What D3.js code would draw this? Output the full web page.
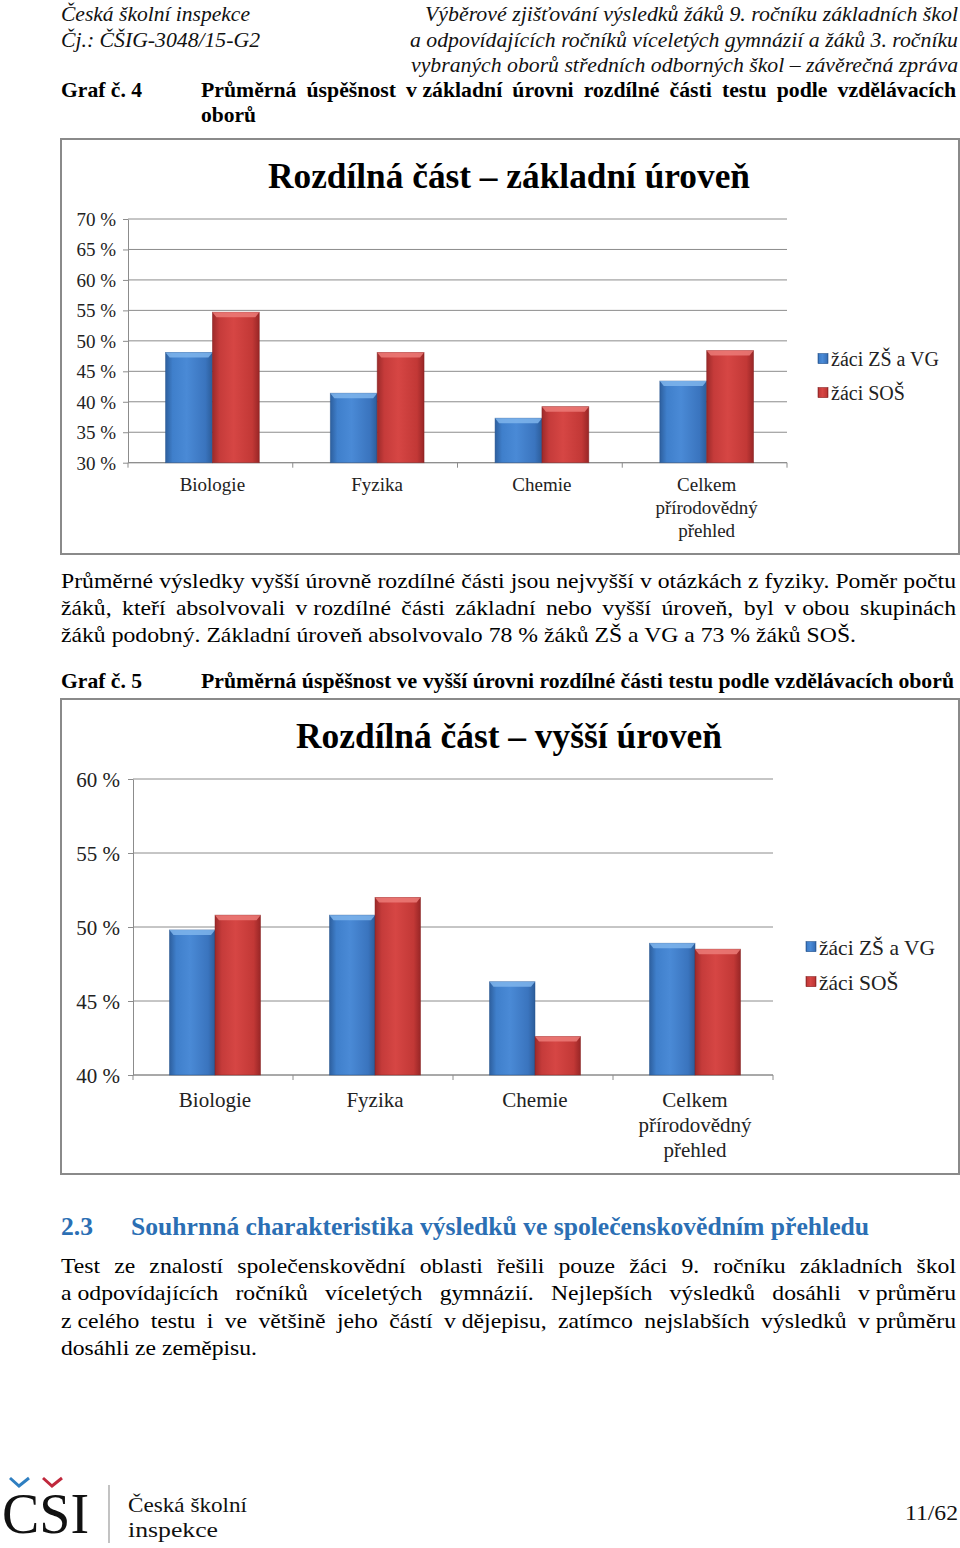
<!DOCTYPE html>
<html><head><meta charset="utf-8">
<script src="https://cdn.jsdelivr.net/npm/d3@7"></script>
<style>html,body{margin:0;padding:0;background:#fff}svg{display:block}</style>
</head><body><svg id="page" width="960" height="1548"></svg>
<script>
// ---------- data ----------
const categories = ["Biologie", "Fyzika", "Chemie", "Celkem přírodovědný přehled"];
const seriesNames = ["žáci ZŠ a VG", "žáci SOŠ"];
const basicZSVG = [48.1, 41.4, 37.3, 43.4];
const basicSOS = [54.7, 48.1, 39.2, 48.4];
const higherZSVG = [49.8, 50.8, 46.3, 48.9];
const higherSOS = [50.8, 52.0, 42.6, 48.5];
const basicTicks = [30, 35, 40, 45, 50, 55, 60, 65, 70];
const higherTicks = [40, 45, 50, 55, 60];
const basicTitle = "Rozdílná část – základní úroveň";
const higherTitle = "Rozdílná část – vyšší úroveň";

// ---------- helpers ----------
const SERIF = "'Liberation Serif','Times New Roman',serif";
const svg = d3.select("#page");

function txt(g, s, o) {
  const t = g.append("text").attr("x", o.x).attr("y", o.y).text(s)
    .attr("font-family", o.family || SERIF).attr("font-size", o.size)
    .attr("font-weight", o.weight || "normal").attr("font-style", o.style || "normal")
    .attr("fill", o.fill || "#000").attr("text-anchor", o.anchor || "start");
  if (o.width) t.attr("textLength", o.width).attr("lengthAdjust", "spacingAndGlyphs");
  return t;
}
function measure(s, o) {
  const t = txt(svg, s, Object.assign({}, o, {width: null, x: 0, y: -100}));
  const w = t.node().getComputedTextLength();
  t.remove();
  return w;
}
function justify(g, s, o) {
  const sx = o.sx || 1;
  const words = s.split(" ");
  const nodes = words.map(w => txt(g, w, Object.assign({}, o, {width: null, x: 0})));
  const ws = nodes.map(n => n.node().getComputedTextLength() * sx);
  let gap = (o.width - d3.sum(ws)) / (words.length - 1);
  if (gap < o.size * 0.12) { nodes.forEach(n => n.remove()); return txt(g, s, o); }
  let x = o.x;
  nodes.forEach((n, i) => {
    n.attr("x", x);
    if (sx !== 1) n.attr("textLength", ws[i]).attr("lengthAdjust", "spacingAndGlyphs");
    x += ws[i] + gap;
  });
}

// ---------- gradients ----------
const defs = svg.append("defs");
const palettes = [
  {id: "gBlue", stops: ["#2d5f9e", "#3f7fcb", "#4a8ad6", "#3a74be", "#2c5d9a"], cap: "#7fb5ec", edge: "#24528c"},
  {id: "gRed", stops: ["#9c2a2a", "#c53b3a", "#d64644", "#c23836", "#982626"], cap: "#ec7b78", edge: "#862121"}
];
palettes.forEach(p => {
  const lg = defs.append("linearGradient").attr("id", p.id).attr("x1", 0).attr("x2", 1).attr("y1", 0).attr("y2", 0);
  p.stops.forEach((c, i) => lg.append("stop").attr("offset", [0, 0.15, 0.45, 0.85, 1][i]).attr("stop-color", c));
});

// ---------- page text ----------
const page = svg.append("g");
const FS = 21.5;
const p1last = "žáků podobný. Základní úroveň absolvovalo 78 % žáků ZŠ a VG a 73 % žáků SOŠ.";
const cap5 = "Průměrná úspěšnost ve vyšší úrovni rozdílné části testu podle vzdělávacích oborů";
const sxBody = 795 / measure(p1last, {size: FS});
const sxBold = 753 / measure(cap5, {size: FS, weight: "bold"});

// header
txt(page, "Česká školní inspekce", {x: 61, y: 21, size: FS, style: "italic", width: 189, fill: "#111"});
txt(page, "Čj.: ČŠIG-3048/15-G2", {x: 61, y: 47, size: FS, style: "italic", width: 199, fill: "#111"});
txt(page, "Výběrové zjišťování výsledků žáků 9. ročníku základních škol", {x: 425, y: 21, size: FS, style: "italic", width: 533, fill: "#111"});
txt(page, "a odpovídajících ročníků víceletých gymnázií a žáků 3. ročníku", {x: 410, y: 47, size: FS, style: "italic", width: 548, fill: "#111"});
txt(page, "vybraných oborů středních odborných škol – závěrečná zpráva", {x: 411, y: 72, size: FS, style: "italic", width: 547, fill: "#111"});

// caption 4
txt(page, "Graf č. 4", {x: 61, y: 97, size: FS, weight: "bold", width: 81});
justify(page, "Průměrná úspěšnost v\u00A0základní úrovni rozdílné části testu podle vzdělávacích", {x: 201, y: 97, size: FS, weight: "bold", width: 755, sx: sxBold});
txt(page, "oborů", {x: 201, y: 122, size: FS, weight: "bold", width: 55});

// paragraph 1
justify(page, "Průměrné výsledky vyšší úrovně rozdílné části jsou nejvyšší v\u00A0otázkách z\u00A0fyziky. Poměr počtu", {x: 61, y: 588, size: FS, width: 895, sx: sxBody});
justify(page, "žáků, kteří absolvovali v\u00A0rozdílné části základní nebo vyšší úroveň, byl v\u00A0obou skupinách", {x: 61, y: 615, size: FS, width: 895, sx: sxBody});
txt(page, p1last, {x: 61, y: 642, size: FS, width: 795});

// caption 5
txt(page, "Graf č. 5", {x: 61, y: 688, size: FS, weight: "bold", width: 81});
txt(page, cap5, {x: 201, y: 688, size: FS, weight: "bold", width: 753});

// heading 2.3
txt(page, "2.3", {x: 61, y: 1235, size: 24.5, weight: "bold", fill: "#2b6fb4", width: 32});
txt(page, "Souhrnná charakteristika výsledků ve společenskovědním přehledu", {x: 131, y: 1235, size: 24.5, weight: "bold", fill: "#2b6fb4", width: 738});

// paragraph 2
justify(page, "Test ze znalostí společenskovědní oblasti řešili pouze žáci 9. ročníku základních škol", {x: 61, y: 1273, size: FS, width: 895, sx: sxBody});
justify(page, "a\u00A0odpovídajících ročníků víceletých gymnázií. Nejlepších výsledků dosáhli v\u00A0průměru", {x: 61, y: 1300, size: FS, width: 895, sx: sxBody});
justify(page, "z\u00A0celého testu i ve většině jeho částí v\u00A0dějepisu, zatímco nejslabších výsledků v\u00A0průměru", {x: 61, y: 1328, size: FS, width: 895, sx: sxBody});
txt(page, "dosáhli ze zeměpisu.", {x: 61, y: 1355, size: FS, width: 196});

// footer
txt(page, "CSI", {x: 2, y: 1533, size: 58, width: 87, fill: "#111"});
page.append("path").attr("d", "M10,1478 L19,1486 L29,1478").attr("fill", "none").attr("stroke", "#2f7fc1").attr("stroke-width", 3);
page.append("path").attr("d", "M43,1478 L52,1486 L62,1478").attr("fill", "none").attr("stroke", "#c0283c").attr("stroke-width", 3);
page.append("line").attr("x1", 109).attr("x2", 109).attr("y1", 1485).attr("y2", 1543).attr("stroke", "#9a9a9a").attr("stroke-width", 1.2);
txt(page, "Česká školní", {x: 128, y: 1512, size: 22, width: 119, fill: "#111"});
txt(page, "inspekce", {x: 128, y: 1537, size: 22, width: 90, fill: "#111"});
txt(page, "11/62", {x: 905, y: 1520, size: 22, width: 53, fill: "#111"});

// ---------- charts ----------
function drawChart(o) {
  const g = svg.append("g");
  g.append("rect").attr("x", o.box[0]).attr("y", o.box[1]).attr("width", o.box[2]).attr("height", o.box[3])
    .attr("fill", "#fff").attr("stroke", "#8a8a8a").attr("stroke-width", 2);

  const y = d3.scaleLinear().domain(d3.extent(o.ticks)).range([o.yBottom, o.yTop]);
  const x = d3.scaleBand().domain(categories).range([o.x0, o.x1]).padding(0);
  const bw = x.bandwidth();
  const xs = d3.scaleBand().domain(seriesNames).range([bw * 0.228, bw * 0.797]).padding(0);

  // gridlines
  g.append("g").selectAll("line").data(o.ticks).join("line")
    .attr("x1", o.x0).attr("x2", o.x1).attr("y1", d => y(d)).attr("y2", d => y(d))
    .attr("stroke", "#8c8c8c").attr("stroke-width", 1);

  // y axis
  const ya = g.append("g").attr("transform", `translate(${o.x0},0)`)
    .call(d3.axisLeft(y).tickValues(o.ticks).tickSize(5).tickSizeOuter(0).tickFormat(d => d + " %"));
  ya.select(".domain").attr("stroke", "#8c8c8c");
  ya.selectAll(".tick line").attr("stroke", "#8c8c8c");
  ya.selectAll(".tick text").attr("font-family", SERIF).attr("font-size", o.tickFont)
    .attr("fill", "#222").attr("x", o.labelRight - o.x0).attr("dy", "0.34em");

  // x axis
  const bounds = categories.map(c => x(c)).concat([o.x1]);
  g.append("line").attr("x1", o.x0).attr("x2", o.x1).attr("y1", o.yBottom).attr("y2", o.yBottom).attr("stroke", "#8c8c8c");
  g.append("g").selectAll("line").data(bounds).join("line")
    .attr("x1", d => d).attr("x2", d => d).attr("y1", o.yBottom).attr("y2", o.yBottom + 5).attr("stroke", "#8c8c8c");

  // bars
  const seriesVals = [o.a, o.b];
  seriesNames.forEach((s, j) => {
    const p = palettes[j];
    const gs = g.append("g");
    categories.forEach((c, i) => {
      const v = seriesVals[j][i];
      const bx = x(c) + xs(s), w = xs.bandwidth(), top = y(v), h = o.yBottom - top;
      gs.append("rect").attr("x", bx).attr("y", top).attr("width", w).attr("height", h)
        .attr("fill", `url(#${p.id})`);
      gs.append("rect").attr("x", bx).attr("y", top).attr("width", w).attr("height", h)
        .attr("fill", "none").attr("stroke", p.edge).attr("stroke-width", 0.8).attr("opacity", 0.6);
      gs.append("path").attr("d", `M${bx},${top} L${bx + w},${top} L${bx + w - 4},${top + 5} L${bx + 4},${top + 5} Z`)
        .attr("fill", p.cap).attr("opacity", 0.85);
    });
  });

  // category labels
  categories.forEach(c => {
    const lines = c === categories[3] ? c.split(" ") : [c];
    lines.forEach((l, k) => txt(g, l, {x: x(c) + bw / 2 + 2, y: o.catY + k * o.catStep, size: o.catFont, anchor: "middle", fill: "#222"}));
  });

  // title
  txt(g, o.title, {x: o.titleX, y: o.titleY, size: 35, weight: "bold", width: o.titleW, fill: "#000"});

  // legend
  seriesNames.forEach((s, j) => {
    const ly = o.legY + j * o.legStep;
    g.append("rect").attr("x", o.legX).attr("y", ly - o.legFont * 0.62).attr("width", 10).attr("height", 10)
      .attr("fill", `url(#${palettes[j].id})`).attr("stroke", palettes[j].edge).attr("stroke-width", 0.6);
    txt(g, s, {x: o.legX + 13, y: ly, size: o.legFont, fill: "#222"});
  });
}

drawChart({
  box: [61, 139, 898, 415], x0: 128, x1: 787, yTop: 219, yBottom: 462.7,
  ticks: basicTicks, a: basicZSVG, b: basicSOS, tickFont: 19, labelRight: 116,
  catY: 491, catStep: 23, catFont: 19,
  title: basicTitle, titleX: 268, titleY: 188, titleW: 482,
  legX: 818, legY: 366, legStep: 34, legFont: 20
});
drawChart({
  box: [61, 699, 898, 475], x0: 133, x1: 773, yTop: 779, yBottom: 1075,
  ticks: higherTicks, a: higherZSVG, b: higherSOS, tickFont: 21, labelRight: 120,
  catY: 1107, catStep: 25, catFont: 21,
  title: higherTitle, titleX: 296, titleY: 748, titleW: 426,
  legX: 806, legY: 955, legStep: 35, legFont: 21.5
});
</script>
</body></html>
